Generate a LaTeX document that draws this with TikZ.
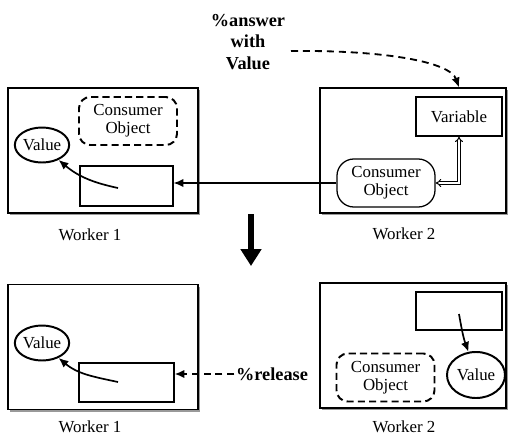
\documentclass[tikz,border=0pt]{standalone}
\usepackage{fontspec}
\setmainfont{Liberation Serif}
\usetikzlibrary{arrows.meta,positioning,shapes.geometric,shadows}
\tikzset{
  wbox/.style={draw, line width=0.8pt, fill=white, minimum width=#1, minimum height=3.125cm,
               drop shadow={shadow xshift=0.06cm, shadow yshift=-0.06cm, fill=gray!80, opacity=1}},
  wlabel/.style={font=\fontsize{12}{14}\selectfont},
  cobj/.style={draw, rounded corners=8pt, line width=#1, font=\fontsize{12}{13}\selectfont,
               minimum width=2.45cm, minimum height=1.2cm, align=center, inner sep=1pt},
  vnode/.style={draw, ellipse, line width=1.4pt, font=\fontsize{12}{14}\selectfont,
                inner sep=0pt},
  slot/.style={draw, line width=0.8pt, minimum width=2.325cm, minimum height=1cm,
               font=\fontsize{12}{14}\selectfont},
  note/.style={font=\fontsize{13}{15}\selectfont\bfseries, align=center, inner sep=1pt},
  msg/.style={line width=1.2pt, -{Latex[length=7pt,width=6pt]}},
}
\begin{document}
\begin{tikzpicture}[x=0.025cm, y=-0.025cm]
  \useasboundingbox (0,0) rectangle (509,435);

  % Before: Worker 2 answers the variable
  \node[wbox=4.75cm] (w1a) at (103,150.5) {};
  \node[wbox=4.65cm] (w2a) at (413,150.5) {};
  \node[wlabel] (l1a) at (90,235) {Worker 1};
  \node[wlabel] (l2a) at (404,234) {Worker 2};

  \node[cobj=1.4pt, dashed, dash pattern=on 5pt off 3pt] (co1) at (128,121) {Consumer\\Object};
  \node[vnode, minimum width=1.35cm, minimum height=0.875cm] (val1) at (42,145) {Value};
  \node[slot] (slot1) at (126.5,186) {};
  \coordinate (v1tail) at (118,188);
  \draw[msg] (v1tail) to[out=168, in=-40] (val1.-42);

  \node[slot, minimum width=2.15cm, minimum height=0.975cm] (var2) at (459,116.5) {Variable};
  \node[cobj=0.9pt, rounded corners=12pt] (co2) at (386,183) {Consumer\\Object};
  \coordinate (bend2) at (var2.south |- co2.east);
  \draw[double, double distance=1.2pt, line width=0.7pt, {Implies}-{Implies}]
    (var2.south) -- (bend2) -- (co2.east);
  \draw[msg, line width=1.1pt] (co2.west) -- (slot1.east |- co2.west);

  \node[note] (answer) at (248,42) {\%answer\\with\\Value};
  \coordinate (ansout) at (291,51);
  \draw[msg, line width=1.3pt, dashed, dash pattern=on 5pt off 3.5pt]
    (ansout) .. controls (385,50) and (450,62) .. (w2a.north -| var2.south);

  % step
  \coordinate (stepa) at (251,214);
  \coordinate (stepb) at (251,266);
  \draw[line width=4.5pt, -{Triangle[width=0.5cm,length=0.42cm]}] (stepa) -- (stepb);

  % After: the consumer is released
  \node[wbox=4.75cm] (w1b) at (103,347) {};
  \node[wbox=4.65cm] (w2b) at (413,345.5) {};
  \node[wlabel] (l1b) at (90,427) {Worker 1};
  \node[wlabel] (l2b) at (404,427) {Worker 2};

  \node[vnode, minimum width=1.35cm, minimum height=0.875cm] (val3) at (42,343) {Value};
  \node[slot, minimum width=2.375cm, minimum height=0.975cm] (slot3) at (126.5,382.5) {};
  \coordinate (v3tail) at (118,382);
  \draw[msg] (v3tail) to[out=168, in=-40] (val3.-42);

  \node[note] (release) at (272,374) {\%release};
  \draw[msg, line width=1.3pt, dashed, dash pattern=on 5pt off 3.5pt]
    (release.west) -- (slot3.east |- release.west);

  \node[slot, minimum width=2.15cm, minimum height=0.95cm] (slot4) at (459,311) {};
  \node[vnode, minimum width=1.45cm, minimum height=1.15cm] (val4) at (476,375) {Value};
  \node[cobj=1.4pt, dashed, dash pattern=on 5pt off 3pt] (co4) at (385.5,377.5) {Consumer\\Object};
  \coordinate (v4tail) at (459,314);
  \draw[msg] (v4tail) to[out=-80, in=110] (val4.108);
\end{tikzpicture}
\end{document}
